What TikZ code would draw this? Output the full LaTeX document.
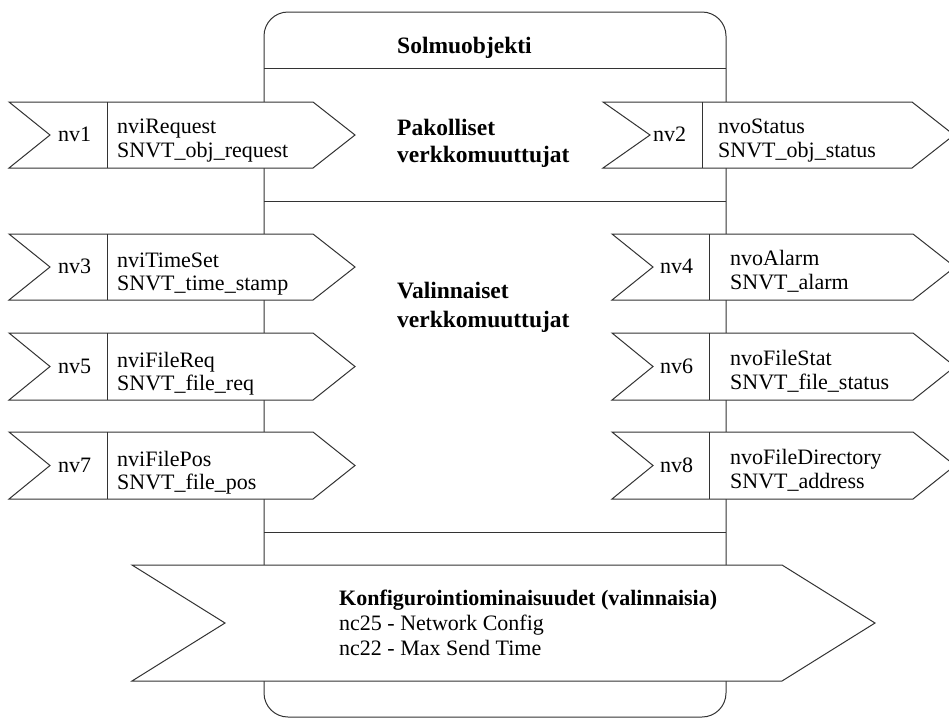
\documentclass[tikz,border=0pt]{standalone}
\usepackage{fontspec}
\setmainfont{Liberation Serif}
\begin{document}
% Node object with its mandatory and optional network variables
\newcommand\sigflag[7]{% left, notch, divider, corner, tip, top, bottom
  \draw[sig] (#1,#6) -- (#4,#6) -- (#5,{(#6+#7)/2}) -- (#4,#7) -- (#1,#7)
    -- (#2,{(#6+#7)/2}) -- cycle;
  \draw[outline] (#3,#6) -- (#3,#7);
}
\begin{tikzpicture}[x=1pt,y=-1pt,
  outline/.style={draw=black!80, line width=1pt, line join=miter},
  sig/.style={outline, fill=white},
  txt/.style={inner sep=0pt, anchor=base west, font=\fontsize{22}{24}\selectfont},
  head/.style={txt, font=\fontsize{22}{24}\selectfont\bfseries},
  section/.style={txt, font=\fontsize{23.5}{26}\selectfont\bfseries}]
\useasboundingbox (0,0) rectangle (949,718);

% object body and its compartments
\draw[outline, rounded corners=24pt] (264,12) rectangle (726,717);
\draw[outline] (264,68) -- (726,68);
\draw[outline] (264,201) -- (726,201);
\draw[outline] (264,532) -- (726,532);

\node[section] (title) at (397,53) {Solmuobjekti};
\node[section] (mand1) at (397,135) {Pakolliset};
\node[section] (mand2) at (397,162) {verkkomuuttujat};
\node[section] (opt1) at (397,298) {Valinnaiset};
\node[section] (opt2) at (397,327) {verkkomuuttujat};

% input variables
\sigflag{9}{50}{107}{313}{355}{102}{168}
\node[txt] (nv1) at (58,141) {nv1};
\node[txt] (nv1a) at (117,133) {nviRequest};
\node[txt] (nv1b) at (117,157) {SNVT\_obj\_request};

\sigflag{9}{50}{107}{313}{355}{234}{300}
\node[txt] (nv3) at (58,273) {nv3};
\node[txt] (nv3a) at (117,267) {nviTimeSet};
\node[txt] (nv3b) at (117,290) {SNVT\_time\_stamp};

\sigflag{9}{50}{107}{313}{355}{333}{400}
\node[txt] (nv5) at (58,373) {nv5};
\node[txt] (nv5a) at (117,367) {nviFileReq};
\node[txt] (nv5b) at (117,390) {SNVT\_file\_req};

\sigflag{9}{50}{107}{313}{355}{432}{499}
\node[txt] (nv7) at (58,472) {nv7};
\node[txt] (nv7a) at (117,466) {nviFilePos};
\node[txt] (nv7b) at (117,489) {SNVT\_file\_pos};

% output variables
\sigflag{603}{650}{702}{912}{954}{102}{168}
\node[txt] (nv2) at (653,141) {nv2};
\node[txt] (nv2a) at (718,133) {nvoStatus};
\node[txt] (nv2b) at (718,157) {SNVT\_obj\_status};

\sigflag{612}{653}{709}{913}{955}{234}{300}
\node[txt] (nv4) at (660,273) {nv4};
\node[txt] (nv4a) at (730,265) {nvoAlarm};
\node[txt] (nv4b) at (730,289) {SNVT\_alarm};

\sigflag{612}{653}{709}{913}{955}{333}{400}
\node[txt] (nv6) at (660,373) {nv6};
\node[txt] (nv6a) at (730,365) {nvoFileStat};
\node[txt] (nv6b) at (730,389) {SNVT\_file\_status};

\sigflag{612}{653}{709}{913}{955}{432}{499}
\node[txt] (nv8) at (660,472) {nv8};
\node[txt] (nv8a) at (730,464) {nvoFileDirectory};
\node[txt] (nv8b) at (730,488) {SNVT\_address};

% configuration properties
\draw[sig] (132,565) -- (782,565) -- (875,623) -- (782,681) -- (132,681)
  -- (225,623) -- cycle;
\node[head] (cfg) at (339,605) {Konfigurointiominaisuudet (valinnaisia)};
\node[txt] (nc25) at (339,630) {nc25 - Network Config};
\node[txt] (nc22) at (339,655) {nc22 - Max Send Time};
\end{tikzpicture}
\end{document}
